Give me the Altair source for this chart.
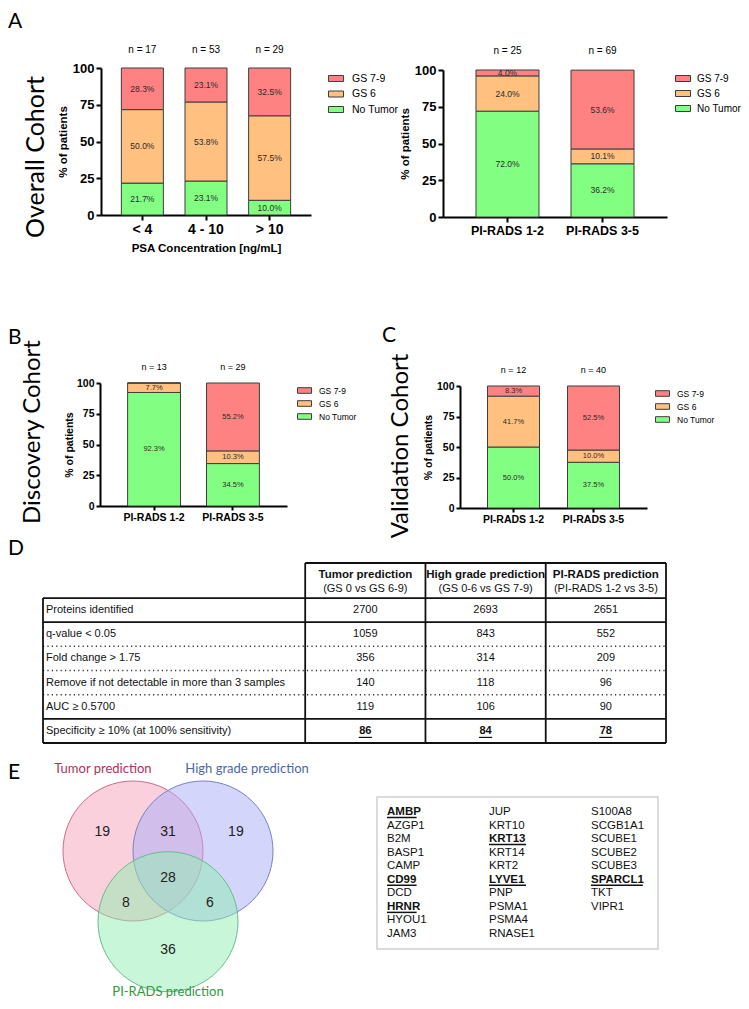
import altair as alt
import pandas as pd

# ---------------- data ----------------
cat_order = ["GS 7-9", "GS 6", "No Tumor"]
bar_colors = ["#FF8282", "#FFC080", "#82FF82"]

psa_groups = ["< 4", "4 - 10", "> 10"]
psa_n = [17, 53, 29]
psa_no_tumor = [21.7, 23.1, 10.0]
psa_gs6 = [50.0, 53.8, 57.5]
psa_gs79 = [28.3, 23.1, 32.5]

pirads_groups = ["PI-RADS 1-2", "PI-RADS 3-5"]
overall_n = [25, 69]
overall_no_tumor = [72.0, 36.2]
overall_gs6 = [24.0, 10.1]
overall_gs79 = [4.0, 53.6]

disc_n = [13, 29]
disc_no_tumor = [92.3, 34.5]
disc_gs6 = [7.7, 10.3]
disc_gs79 = [0.0, 55.2]

valid_n = [12, 40]
valid_no_tumor = [50.0, 37.5]
valid_gs6 = [41.7, 10.0]
valid_gs79 = [8.3, 52.5]

table_heads = ["Tumor prediction", "High grade prediction", "PI-RADS prediction"]
table_subheads = ["(GS 0 vs GS 6-9)", "(GS 0-6 vs GS 7-9)", "(PI-RADS 1-2 vs 3-5)"]
table_rows = ["Proteins identified", "q-value < 0.05", "Fold change > 1.75",
              "Remove if not detectable in more than 3 samples", "AUC \u2265 0.5700",
              "Specificity \u2265 10% (at 100% sensitivity)"]
tumor_counts = [2700, 1059, 356, 140, 119, 86]
highgrade_counts = [2693, 843, 314, 118, 106, 84]
pirads_counts = [2651, 552, 209, 96, 90, 78]

venn_sets = ["Tumor prediction", "High grade prediction", "PI-RADS prediction"]
venn_fill = ["#F5A1B9", "#A7ABF7", "#8FEDB1"]
venn_stroke = ["#D06A8A", "#7A80C8", "#6DBB8A"]
venn_text = ["#B0305A", "#4A68A8", "#2E9A3A"]
venn_counts = [19, 31, 19, 28, 8, 6, 36]   # T, T&H, H, T&H&P, T&P, H&P, P

genes_col1 = ["AMBP", "AZGP1", "B2M", "BASP1", "CAMP", "CD99", "DCD", "HRNR", "HYOU1", "JAM3"]
genes_col2 = ["JUP", "KRT10", "KRT13", "KRT14", "KRT2", "LYVE1", "PNP", "PSMA1", "PSMA4", "RNASE1"]
genes_col3 = ["S100A8", "SCGB1A1", "SCUBE1", "SCUBE2", "SCUBE3", "SPARCL1", "TKT", "VIPR1"]
highlighted_genes = ["AMBP", "CD99", "HRNR", "KRT13", "LYVE1", "SPARCL1"]

# ---------------- layout ----------------
FONT = "Liberation Sans"
HFONT = "Lato"
W_TOTAL, H_TOTAL = 733, 993
M = 8


def P(v):
    return v - M


SYM = "M-1,-0.4L1,-0.4L1,0.4L-1,0.4Z"

cfg_a1 = dict(ax_x=101, ax_end=311, y0=215, y100=68, pi=0.34, po=0.32, tick_fs=13, xlab_fs=14,
              yt_fs=11.5, yt_pad=4, pct_fs=8.5, n_fs=10, n_dy=-18, leg_x=329, leg_y=78, leg_fs=10.5,
              sym=225, rowpad=1.5, xtitle="PSA Concentration [ng/mL]", tick=5, lab_off=8)
cfg_a2 = dict(ax_x=443, ax_end=667, y0=217, y100=70, pi=0.337, po=0.347, tick_fs=13, xlab_fs=12.5,
              yt_fs=11.5, yt_pad=4, pct_fs=8.5, n_fs=10, n_dy=-19, leg_x=676, leg_y=78, leg_fs=10,
              sym=225, rowpad=2, xtitle=None, tick=5, lab_off=6)
cfg_b = dict(ax_x=100, ax_end=287, y0=506, y100=383, pi=0.33, po=0.35, tick_fs=10.5, xlab_fs=10.5,
             yt_fs=10.5, yt_pad=1.5, pct_fs=7.5, n_fs=9, n_dy=-16, leg_x=298, leg_y=390, leg_fs=8.5,
             sym=196, rowpad=0, xtitle=None, tick=4, lab_off=7)
cfg_c = dict(ax_x=460, ax_end=647, y0=508, y100=386, pi=0.35, po=0.344, tick_fs=10.5, xlab_fs=10.5,
             yt_fs=10.5, yt_pad=3, pct_fs=7.5, n_fs=9, n_dy=-16, leg_x=656, leg_y=393, leg_fs=8.5,
             sym=196, rowpad=0, xtitle=None, tick=4, lab_off=7)


def bar_panel(groups, n_vals, no_tumor, gs6, gs79, c):
    rows = []
    for i, g in enumerate(groups):
        base = 0.0
        for cat, v in (("No Tumor", no_tumor[i]), ("GS 6", gs6[i]), ("GS 7-9", gs79[i])):
            rows.append({"group": g, "cat": cat, "lo": base, "hi": base + v, "mid": base + v / 2,
                         "label": f"{v:.1f}%" if v > 0 else ""})
            base += v
    seg = pd.DataFrame(rows)
    nd = pd.DataFrame({"group": groups, "nlab": [f"n = {k}" for k in n_vals]})

    xs = alt.Scale(domain=groups, range=[P(c["ax_x"]), P(c["ax_end"])],
                   paddingInner=c["pi"], paddingOuter=c["po"])
    ys = alt.Scale(domain=[0, 100], range=[P(c["y0"]), P(c["y100"])], nice=False, zero=False)
    xkw = dict(orient="bottom", offset=P(c["y0"]) - H_TOTAL, labelAngle=0, labelFont=FONT,
               labelFontWeight="bold", labelFontSize=c["xlab_fs"], labelColor="black",
               domainColor="black", domainWidth=2, tickColor="black", tickWidth=2,
               tickSize=c["tick"], labelPadding=2, grid=False)
    if c["xtitle"]:
        xaxis = alt.Axis(title=c["xtitle"], titleFont=FONT, titleFontWeight="bold",
                         titleFontSize=c["yt_fs"], titleColor="black", titlePadding=6, **xkw)
    else:
        xaxis = alt.Axis(title=None, **xkw)
    yaxis = alt.Axis(orient="left", offset=-P(c["ax_x"]), values=[0, 25, 50, 75, 100],
                     title="% of patients", titleFont=FONT, titleFontWeight="bold",
                     titleFontSize=c["yt_fs"], titleColor="black", titlePadding=c["yt_pad"],
                     labelFont=FONT, labelFontWeight="bold", labelFontSize=c["tick_fs"],
                     labelColor="black", domainColor="black", domainWidth=2, tickColor="black",
                     tickWidth=2, tickSize=c["tick"], labelPadding=2, grid=False)
    X = alt.X("group:N", scale=xs, axis=xaxis)
    legend = alt.Legend(orient="none", legendX=P(c["leg_x"]) - 1,
                        legendY=P(c["leg_y"]) - c["sym"] ** 0.5 / 2, title=None,
                        symbolType=SYM, symbolSize=c["sym"], symbolStrokeColor="#3d3d3d",
                        symbolStrokeWidth=1, symbolOpacity=1, labelFont=FONT,
                        labelFontSize=c["leg_fs"], labelColor="black", labelOffset=c["lab_off"],
                        rowPadding=c["rowpad"], padding=0)
    bars = alt.Chart(seg).mark_bar(stroke="#3d3d3d", strokeWidth=1, opacity=1).encode(
        x=X,
        y=alt.Y("hi:Q", scale=ys, axis=yaxis),
        y2="lo:Q",
        color=alt.Color("cat:N", scale=alt.Scale(domain=cat_order, range=bar_colors), legend=legend),
    )
    pct = alt.Chart(seg).mark_text(font=FONT, fontSize=c["pct_fs"], color="#2a2a2a").encode(
        x=X, y=alt.Y("mid:Q", scale=ys, axis=yaxis), text="label:N")
    ntxt = alt.Chart(nd).mark_text(font=FONT, fontSize=c["n_fs"], color="black", dy=c["n_dy"]).encode(
        x=X, y=alt.datum(100, scale=ys, axis=yaxis), text="nlab:N")
    return alt.layer(bars, pct, ntxt)


def label(text, x, y, size, font=HFONT, angle=0, align="left", baseline="middle",
          weight="normal", color="black"):
    return alt.Chart(pd.DataFrame({"t": [text]})).mark_text(
        font=font, fontSize=size, angle=angle, align=align, baseline=baseline,
        fontWeight=weight, color=color).encode(x=alt.value(P(x)), y=alt.value(P(y)), text="t:N")


# ---------------- table (D) ----------------
LABEL_W = 2.18
HEAD_H = 1.45
NCOL = len(table_heads)
t_xs = alt.Scale(domain=[0, LABEL_W + NCOL], range=[P(43), P(666)], nice=False, zero=False)
t_ys = alt.Scale(domain=[-HEAD_H, len(table_rows)], range=[P(563), P(743)], nice=False, zero=False)
TX = dict(scale=t_xs, axis=None)
TY = dict(scale=t_ys, axis=None)

hl = []
hl.append({"y": -HEAD_H, "x1": LABEL_W, "x2": LABEL_W + NCOL, "dotted": 0})
for r in range(len(table_rows) + 1):
    dotted = 1 if r in (2, 3, 4) else 0
    hl.append({"y": r, "x1": 0, "x2": LABEL_W + NCOL, "dotted": dotted})
hl = pd.DataFrame(hl)
vl = pd.DataFrame([{"x": 0, "y1": 0, "y2": len(table_rows)}] +
                  [{"x": LABEL_W + j, "y1": -HEAD_H, "y2": len(table_rows)} for j in range(NCOL + 1)])

t_solid = alt.Chart(hl[hl["dotted"] == 0]).mark_rule(color="#111", strokeWidth=1.8).encode(
    x=alt.X("x1:Q", **TX), x2="x2:Q", y=alt.Y("y:Q", **TY))
t_dot = alt.Chart(hl[hl["dotted"] == 1]).mark_rule(color="#333", strokeWidth=1.5, strokeDash=[1.2, 3.2]).encode(
    x=alt.X("x1:Q", **TX), x2="x2:Q", y=alt.Y("y:Q", **TY))
t_vert = alt.Chart(vl).mark_rule(color="#111", strokeWidth=1.8).encode(
    x=alt.X("x:Q", **TX), y=alt.Y("y1:Q", **TY), y2="y2:Q")

head_df = pd.DataFrame({"x": [LABEL_W + j + 0.5 for j in range(NCOL)], "y": [-HEAD_H / 2] * NCOL,
                        "h": table_heads, "s": table_subheads})
t_head1 = alt.Chart(head_df).mark_text(font=FONT, fontSize=11.5, fontWeight="bold", color="#111", dy=-6).encode(
    x=alt.X("x:Q", **TX), y=alt.Y("y:Q", **TY), text="h:N")
t_head2 = alt.Chart(head_df).mark_text(font=FONT, fontSize=11, color="#111", dy=8).encode(
    x=alt.X("x:Q", **TX), y=alt.Y("y:Q", **TY), text="s:N")

row_df = pd.DataFrame({"x": [0] * len(table_rows), "y": [r + 0.5 for r in range(len(table_rows))],
                       "t": table_rows})
t_rowlab = alt.Chart(row_df).mark_text(font=FONT, fontSize=11, color="#111", align="left", dx=3).encode(
    x=alt.X("x:Q", **TX), y=alt.Y("y:Q", **TY), text="t:N")

cells = []
for j, vals in enumerate([tumor_counts, highgrade_counts, pirads_counts]):
    for r, v in enumerate(vals):
        last = r == len(vals) - 1
        w = len(str(v)) * 6.6 / 2 / (623 / (LABEL_W + NCOL))
        cells.append({"x": LABEL_W + j + 0.5, "y": r + 0.5, "v": str(v), "bold": int(last),
                      "u1": LABEL_W + j + 0.5 - w, "u2": LABEL_W + j + 0.5 + w})
cells = pd.DataFrame(cells)
t_vals = alt.Chart(cells[cells["bold"] == 0]).mark_text(font=FONT, fontSize=11, color="#111").encode(
    x=alt.X("x:Q", **TX), y=alt.Y("y:Q", **TY), text="v:N")
t_valsb = alt.Chart(cells[cells["bold"] == 1]).mark_text(font=FONT, fontSize=11, fontWeight="bold", color="#111").encode(
    x=alt.X("x:Q", **TX), y=alt.Y("y:Q", **TY), text="v:N")
t_under = alt.Chart(cells[cells["bold"] == 1]).mark_rule(color="#111", strokeWidth=1.2, yOffset=6.5).encode(
    x=alt.X("u1:Q", **TX), x2="u2:Q", y=alt.Y("y:Q", **TY))
table = alt.layer(t_solid, t_dot, t_vert, t_head1, t_head2, t_rowlab, t_vals, t_valsb, t_under)

# ---------------- venn (E) ----------------
v_xs = alt.Scale(domain=[-2, 2], range=[P(28), P(308)], nice=False, zero=False)
v_ys = alt.Scale(domain=[-2.5, 1.5], range=[P(1026), P(746)], nice=False, zero=False)
VX = dict(scale=v_xs, axis=None)
VY = dict(scale=v_ys, axis=None)
circ = pd.DataFrame({"set": venn_sets, "cx": [-0.5, 0.5, 0.0], "cy": [0.0, 0.0, -1.01]})
v_circ = alt.Chart(circ).mark_circle(size=19600, fillOpacity=0.5, strokeWidth=1, opacity=1).encode(
    x=alt.X("cx:Q", **VX), y=alt.Y("cy:Q", **VY),
    color=alt.Color("set:N", scale=alt.Scale(domain=venn_sets, range=venn_fill), legend=None),
    stroke=alt.Stroke("set:N", scale=alt.Scale(domain=venn_sets, range=venn_stroke), legend=None))
reg = pd.DataFrame({"c": [str(v) for v in venn_counts],
                    "x": [-0.94, 0.0, 0.97, 0.0, -0.6, 0.6, 0.0],
                    "y": [0.27, 0.27, 0.27, -0.39, -0.74, -0.74, -1.41]})
v_nums = alt.Chart(reg).mark_text(font=FONT, fontSize=14, color="#222").encode(
    x=alt.X("x:Q", **VX), y=alt.Y("y:Q", **VY), text="c:N")
setlab = pd.DataFrame({"set": venn_sets, "x": [-0.93, 1.13, 0.0], "y": [1.17, 1.17, -2.02]})
v_labs = alt.Chart(setlab).mark_text(font=HFONT, fontSize=13).encode(
    x=alt.X("x:Q", **VX), y=alt.Y("y:Q", **VY), text="set:N",
    fill=alt.Fill("set:N", scale=alt.Scale(domain=venn_sets, range=venn_text), legend=None))
venn = alt.layer(v_circ, v_nums, v_labs)

# ---------------- gene list (E) ----------------
g_xs = alt.Scale(domain=[0, 2], range=[P(387), P(591)], nice=False, zero=False)
g_ys = alt.Scale(domain=[0, 9], range=[P(812), P(934)], nice=False, zero=False)
GX = dict(scale=g_xs, axis=None)
GY = dict(scale=g_ys, axis=None)
genes = []
for ci, col in enumerate([genes_col1, genes_col2, genes_col3]):
    for ri, gname in enumerate(col):
        hi = int(gname in highlighted_genes)
        genes.append({"g": gname, "col": ci, "row": ri, "hi": hi,
                      "u2": ci + len(gname) * 7.4 / 102})
genes = pd.DataFrame(genes)
box = pd.DataFrame({"x1": [-0.098], "x2": [2.657], "y1": [-1.106], "y2": [10.1]})
g_box = alt.Chart(box).mark_rect(fillOpacity=0, stroke="#cfcfcf", strokeWidth=1.5).encode(
    x=alt.X("x1:Q", **GX), x2="x2:Q", y=alt.Y("y1:Q", **GY), y2="y2:Q")
g_norm = alt.Chart(genes[genes["hi"] == 0]).mark_text(font=FONT, fontSize=11.5, color="#111", align="left").encode(
    x=alt.X("col:Q", **GX), y=alt.Y("row:Q", **GY), text="g:N")
g_bold = alt.Chart(genes[genes["hi"] == 1]).mark_text(font=FONT, fontSize=11.5, fontWeight="bold", color="#111", align="left").encode(
    x=alt.X("col:Q", **GX), y=alt.Y("row:Q", **GY), text="g:N")
g_under = alt.Chart(genes[genes["hi"] == 1]).mark_rule(color="#111", strokeWidth=1.5, yOffset=5.5).encode(
    x=alt.X("col:Q", **GX), x2="u2:Q", y=alt.Y("row:Q", **GY))
genelist = alt.layer(g_box, g_norm, g_bold, g_under)

# ---------------- annotations ----------------
annos = [
    label("A", 8, 22, 21),
    label("B", 8, 338, 21),
    label("C", 382, 336, 21),
    label("D", 8, 549, 21),
    label("E", 8, 773, 21),
    label("Overall Cohort", 36, 157, 25, angle=270, align="center"),
    label("Discovery Cohort", 33, 432, 24, angle=270, align="center"),
    label("Validation Cohort", 401, 446, 24, angle=270, align="center"),
]

layers = [
    bar_panel(psa_groups, psa_n, psa_no_tumor, psa_gs6, psa_gs79, cfg_a1),
    bar_panel(pirads_groups, overall_n, overall_no_tumor, overall_gs6, overall_gs79, cfg_a2),
    bar_panel(pirads_groups, disc_n, disc_no_tumor, disc_gs6, disc_gs79, cfg_b),
    bar_panel(pirads_groups, valid_n, valid_no_tumor, valid_gs6, valid_gs79, cfg_c),
    table, venn, genelist,
] + annos

chart = alt.layer(*layers).resolve_scale(
    x="independent", y="independent", color="independent", stroke="independent", fill="independent"
).resolve_axis(x="independent", y="independent").resolve_legend(color="independent").properties(
    width=W_TOTAL, height=H_TOTAL, padding=0, autosize=alt.AutoSizeParams(type="none")
).configure_view(stroke=None).configure_axis(grid=False)

chart.save("out.html", embed_options={"renderer": "svg", "actions": False})
